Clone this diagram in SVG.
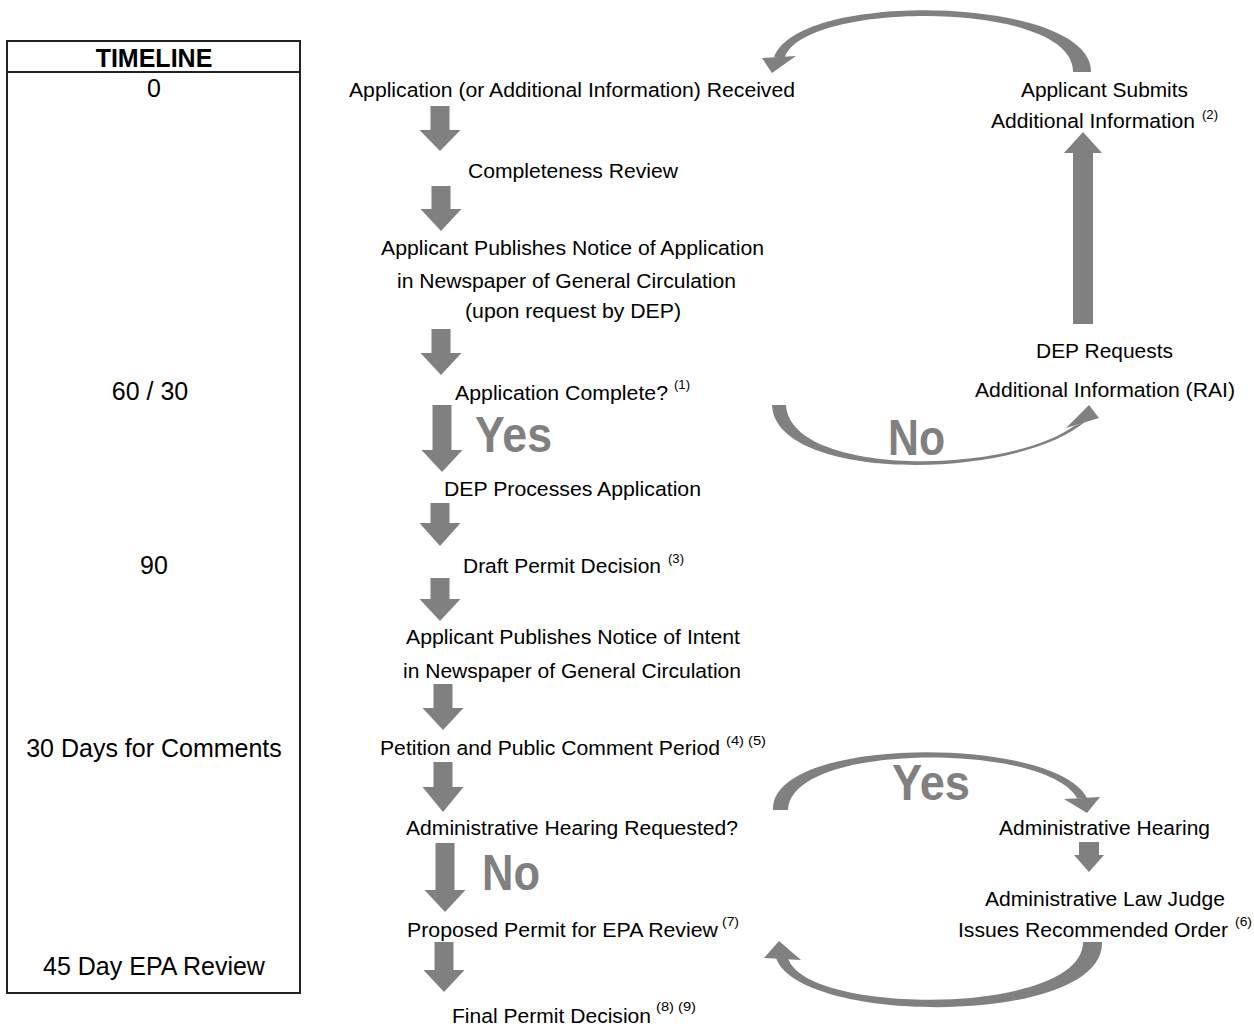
<svg xmlns="http://www.w3.org/2000/svg" width="1254" height="1027" viewBox="0 0 1254 1027">
<style>
.t{font-family:"Liberation Sans",Arial,sans-serif;font-size:20.5px;fill:#000}
.tl{font-family:"Liberation Sans",Arial,sans-serif;font-size:25px;fill:#000;text-anchor:middle}
.sup{font-family:"Liberation Sans",Arial,sans-serif;font-size:12px;fill:#000}
.big{font-family:"Liberation Sans",Arial,sans-serif;font-size:50px;font-weight:bold;fill:#808080}
.blk{fill:#808080}
</style>
<rect width="1254" height="1027" fill="#fff"/>
<g id="timeline">
<rect x="7" y="41" width="293" height="952" fill="none" stroke="#222" stroke-width="2"/>
<line x1="7" y1="72" x2="300" y2="72" stroke="#222" stroke-width="2"/>
<text class="tl" x="154" y="67" font-weight="bold">TIMELINE</text>
<text class="tl" x="154" y="97" font-size="26">0</text>
<text class="tl" x="150" y="400">60 / 30</text>
<text class="tl" x="154" y="574">90</text>
<text class="tl" x="154" y="757">30 Days for Comments</text>
<text class="tl" x="154" y="975">45 Day EPA Review</text>
</g>
<g id="n-received"><text class="t" x="349" y="97" textLength="446" lengthAdjust="spacingAndGlyphs">Application (or Additional Information) Received</text></g>
<g id="n-completeness"><text class="t" x="468" y="178" textLength="210" lengthAdjust="spacingAndGlyphs">Completeness Review</text></g>
<g id="n-notice-app">
<text class="t" x="381" y="255" textLength="383" lengthAdjust="spacingAndGlyphs">Applicant Publishes Notice of Application</text>
<text class="t" x="397" y="288" textLength="339" lengthAdjust="spacingAndGlyphs">in Newspaper of General Circulation</text>
<text class="t" x="465" y="318" textLength="216" lengthAdjust="spacingAndGlyphs">(upon request by DEP)</text>
</g>
<g id="n-complete">
<text class="t" x="455" y="400" textLength="213" lengthAdjust="spacingAndGlyphs">Application Complete?</text>
<text class="sup" x="674" y="389" textLength="16" lengthAdjust="spacingAndGlyphs">(1)</text>
</g>
<g id="n-processes"><text class="t" x="444" y="496" textLength="257" lengthAdjust="spacingAndGlyphs">DEP Processes Application</text></g>
<g id="n-draft">
<text class="t" x="463" y="573" textLength="198" lengthAdjust="spacingAndGlyphs">Draft Permit Decision</text>
<text class="sup" x="668" y="563" textLength="16" lengthAdjust="spacingAndGlyphs">(3)</text>
</g>
<g id="n-notice-intent">
<text class="t" x="406" y="644" textLength="334" lengthAdjust="spacingAndGlyphs">Applicant Publishes Notice of Intent</text>
<text class="t" x="403" y="678" textLength="338" lengthAdjust="spacingAndGlyphs">in Newspaper of General Circulation</text>
</g>
<g id="n-petition">
<text class="t" x="380" y="755" textLength="340" lengthAdjust="spacingAndGlyphs">Petition and Public Comment Period</text>
<text class="sup" x="726" y="745" textLength="40" lengthAdjust="spacingAndGlyphs">(4) (5)</text>
</g>
<g id="n-hearing-req"><text class="t" x="406" y="835" textLength="332" lengthAdjust="spacingAndGlyphs">Administrative Hearing Requested?</text></g>
<g id="n-proposed">
<text class="t" x="407" y="937" textLength="311" lengthAdjust="spacingAndGlyphs">Proposed Permit for EPA Review</text>
<text class="sup" x="722" y="926" textLength="17" lengthAdjust="spacingAndGlyphs">(7)</text>
</g>
<g id="n-final">
<text class="t" x="452" y="1023" textLength="199" lengthAdjust="spacingAndGlyphs">Final Permit Decision</text>
<text class="sup" x="656" y="1011" textLength="40" lengthAdjust="spacingAndGlyphs">(8) (9)</text>
</g>
<g id="n-submits">
<text class="t" x="1021" y="97" textLength="167" lengthAdjust="spacingAndGlyphs">Applicant Submits</text>
<text class="t" x="991" y="128" textLength="204" lengthAdjust="spacingAndGlyphs">Additional Information</text>
<text class="sup" x="1202" y="119" textLength="16" lengthAdjust="spacingAndGlyphs">(2)</text>
</g>
<g id="n-rai">
<text class="t" x="1036" y="358" textLength="137" lengthAdjust="spacingAndGlyphs">DEP Requests</text>
<text class="t" x="975" y="397" textLength="260" lengthAdjust="spacingAndGlyphs">Additional Information (RAI)</text>
</g>
<g id="n-hearing"><text class="t" x="999" y="835" textLength="211" lengthAdjust="spacingAndGlyphs">Administrative Hearing</text></g>
<g id="n-alj">
<text class="t" x="985" y="906" textLength="240" lengthAdjust="spacingAndGlyphs">Administrative Law Judge</text>
<text class="t" x="958" y="937" textLength="270" lengthAdjust="spacingAndGlyphs">Issues Recommended Order</text>
<text class="sup" x="1235" y="926" textLength="17" lengthAdjust="spacingAndGlyphs">(6)</text>
</g>
<g id="connectors">
<polygon class="blk" points="430.5,106 449.5,106 449.5,130 460.5,130 440,151 419.5,130 430.5,130"/>
<polygon class="blk" points="431.5,186 450.5,186 450.5,209 461.5,209 441,231 420.5,209 431.5,209"/>
<polygon class="blk" points="431.5,329 450.5,329 450.5,353 461.5,353 441,375 420.5,353 431.5,353"/>
<polygon class="blk" points="432.5,405 451.5,405 451.5,450 462.5,450 442,472 421.5,450 432.5,450"/>
<polygon class="blk" points="430.5,503 449.5,503 449.5,523 460.5,523 440,546 419.5,523 430.5,523"/>
<polygon class="blk" points="430.5,578 449.5,578 449.5,599 460.5,599 440,621 419.5,599 430.5,599"/>
<polygon class="blk" points="433.5,684 452.5,684 452.5,708 463.5,708 443,730 422.5,708 433.5,708"/>
<polygon class="blk" points="433.5,762 452.5,762 452.5,787 463.5,787 443,812 422.5,787 433.5,787"/>
<polygon class="blk" points="435.5,843 454.5,843 454.5,890 465.5,890 445,912 424.5,890 435.5,890"/>
<polygon class="blk" points="434.5,942 453.5,942 453.5,970 464.5,970 444,992 423.5,970 434.5,970"/>
<polygon class="blk" points="1073,324 1093,324 1093,153 1102,153 1083,132 1064,153 1073,153"/>
<polygon class="blk" points="1079,842 1099,842 1099,855 1104,855 1089,872 1074,855 1079,855"/>
<path class="blk" d="M1091,72 C1093,-3 800,-12 774,57 L785,57 C805,0 1075,0 1073,72 Z"/>
<polygon class="blk" points="762,58 796,56 772,73"/>
<path class="blk" d="M772,405 C775,482 1015,482 1086,421 L1074,426 C1005,476 790,476 786,405 Z"/>
<polygon class="blk" points="1066,428 1099,418 1089,405"/>
<path class="blk" d="M773,810 C770,735 1055,735 1087,798 L1077,798 C1045,742 790,742 788,810 Z"/>
<polygon class="blk" points="1064,799 1100,797 1087,813"/>
<path class="blk" d="M1102,942 C1105,1026 800,1026 776,958 L788,958 C805,1016 1083,1016 1083,942 Z"/>
<polygon class="blk" points="764,958 801,960 779,941"/>
<text class="big" x="475" y="452" textLength="77" lengthAdjust="spacingAndGlyphs">Yes</text>
<text class="big" x="888" y="455" textLength="57" lengthAdjust="spacingAndGlyphs">No</text>
<text class="big" x="892" y="800" textLength="78" lengthAdjust="spacingAndGlyphs">Yes</text>
<text class="big" x="482" y="890" textLength="58" lengthAdjust="spacingAndGlyphs">No</text>
</g>
</svg>
